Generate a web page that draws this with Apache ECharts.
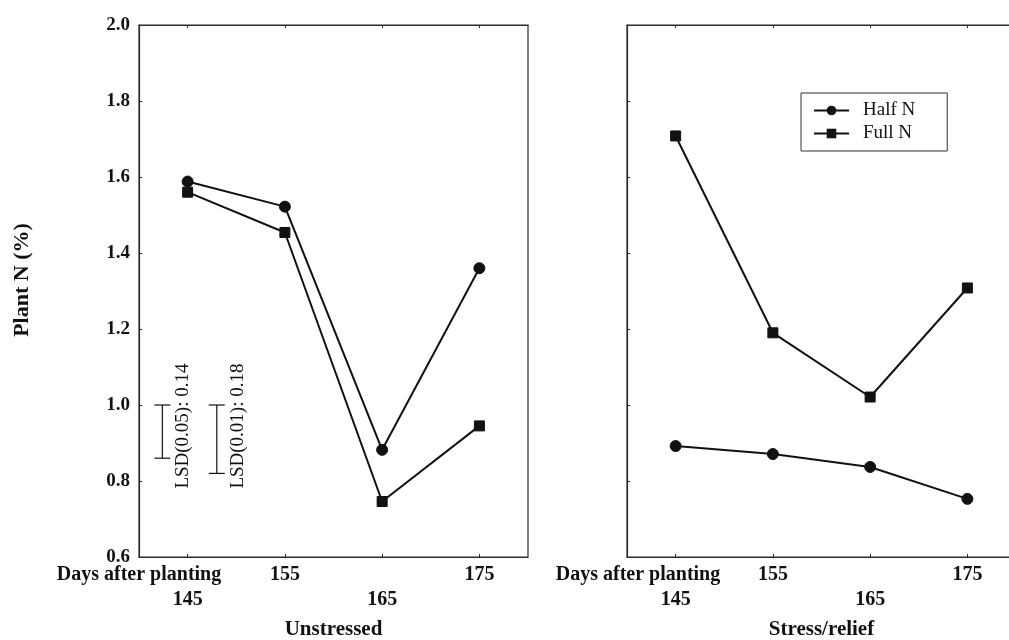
<!DOCTYPE html>
<html>
<head>
<meta charset="utf-8">
<script src="https://cdn.jsdelivr.net/npm/echarts@6/dist/echarts.min.js"></script>
<style>
  html, body { margin: 0; padding: 0; background: #fff; }
  #chart { width: 1009px; height: 640px; }
</style>
</head>
<body>
<div id="chart"></div>
<script>
// Sampling dates (days after planting)
const days = [145, 155, 165, 175];

// Plant N (%) — unstressed treatment
const unstressedHalfN = [1.588, 1.522, 0.882, 1.360];
const unstressedFullN = [1.560, 1.454, 0.746, 0.945];

// Plant N (%) — stress/relief treatment
const stressHalfN = [0.892, 0.871, 0.837, 0.753];
const stressFullN = [1.708, 1.190, 1.021, 1.308];

// Least significant differences shown on the unstressed panel
const lsdLabels = ['LSD(0.05): 0.14', 'LSD(0.01): 0.18'];
const lsdValues = [0.14, 0.18];
const lsdDays = [142.4, 148.0];
const lsdTop = 1.0;

// Axis labels
const yTicks = [0.6, 0.8, 1.0, 1.2, 1.4, 1.6, 1.8, 2.0];
const xCaption = 'Days after planting';
const xCaptionAt = [140];
const panelTitles = ['Unstressed', 'Stress/relief'];

const SERIF = '"Liberation Serif", "Times New Roman", serif';
const INK = '#111';
const FRAME = '#2b2b2b';
const LABEL = { color: INK, fontFamily: SERIF, fontWeight: 'bold', fontSize: 20, lineHeight: 25 };

// Date axis: dates alternate between two label rows.
function makeXAxis(grid, title) {
  return {
    type: 'value', gridIndex: grid, min: 140, max: 180, interval: 5,
    axisLine: { show: true, lineStyle: { color: FRAME, width: 1.2 } },
    axisTick: { show: true, inside: true, length: 3, customValues: days, lineStyle: { color: FRAME } },
    axisLabel: Object.assign({
      show: true, customValues: days, margin: 5, hideOverlap: false,
      showMinLabel: true, showMaxLabel: true,
      formatter: function (v) {
        const i = days.indexOf(v);
        if (i < 0) return '';
        return (i % 2 === 0 ? '\n' : '') + v;
      }
    }, LABEL),
    splitLine: { show: false },
    name: title, nameLocation: 'middle', nameGap: 62,
    nameTextStyle: { color: INK, fontFamily: SERIF, fontWeight: 'bold', fontSize: 21 }
  };
}

// Caption on the first label row, at the left end of the date axis.
function makeCaptionAxis(grid, shift) {
  return {
    type: 'value', gridIndex: grid, position: 'bottom', min: 140, max: 180, interval: 5,
    axisLine: { show: false }, axisTick: { show: false }, splitLine: { show: false },
    axisLabel: Object.assign({
      show: true, customValues: xCaptionAt, margin: 5, showMinLabel: true,
      formatter: () => '{c|' + xCaption + '}',
      rich: { c: Object.assign({ padding: [0, 0, 0, shift * 2] }, LABEL) }
    }, LABEL)
  };
}

function makeTopAxis(grid) {
  return {
    type: 'value', gridIndex: grid, position: 'top', min: 140, max: 180, interval: 5,
    axisLine: { show: true, lineStyle: { color: FRAME, width: 1.2 } },
    axisTick: { show: true, inside: true, length: 3, customValues: days, lineStyle: { color: FRAME } },
    axisLabel: { show: false }, splitLine: { show: false }
  };
}

function makeYAxis(grid, showLabels) {
  return {
    type: 'value', gridIndex: grid, min: 0.6, max: 2.0, interval: 0.2,
    axisLine: { show: true, lineStyle: { color: FRAME, width: 1.2 } },
    axisTick: { show: true, inside: true, length: 3, lineStyle: { color: FRAME } },
    axisLabel: {
      show: showLabels, margin: 9,
      formatter: v => (yTicks.some(t => Math.abs(t - v) < 1e-6) ? v.toFixed(1) : ''),
      color: INK, fontFamily: SERIF, fontWeight: 'bold', fontSize: 19
    },
    splitLine: { show: false }
  };
}

function lineSeries(name, grid, values, symbol, size) {
  return {
    name, type: 'line', xAxisIndex: grid * 3, yAxisIndex: grid,
    data: days.map((d, i) => [d, values[i]]),
    symbol, symbolSize: size,
    lineStyle: { color: INK, width: 2 },
    itemStyle: { color: INK, borderColor: INK },
    z: 3
  };
}

const chart = echarts.init(document.getElementById('chart'), null, { renderer: 'canvas' });

chart.setOption({
  animation: false,
  backgroundColor: '#fff',
  grid: [
    { left: 139, top: 25, width: 389, height: 532, outerBoundsMode: 'none', containLabel: false,
      show: true, borderColor: FRAME, borderWidth: 1.2 },
    { left: 627, top: 25, width: 389, height: 532, outerBoundsMode: 'none', containLabel: false,
      show: true, borderColor: FRAME, borderWidth: 1.2 }
  ],
  xAxis: [
    makeXAxis(0, panelTitles[0]), makeTopAxis(0), makeCaptionAxis(0, 0),
    makeXAxis(1, panelTitles[1]), makeTopAxis(1), makeCaptionAxis(1, 11)
  ],
  yAxis: [
    makeYAxis(0, true), makeYAxis(1, false)
  ],
  legend: {
    data: ['Half N', 'Full N'],
    orient: 'vertical', left: 801, top: 93,
    itemWidth: 35, itemHeight: 12, itemGap: 4,
    borderColor: '#333', borderWidth: 1,
    padding: [8, 32, 8, 12],
    textStyle: { color: INK, fontFamily: SERIF, fontSize: 19, padding: [0, 0, 0, 9] }
  },
  graphic: [
    {
      type: 'text', x: 22, y: 280, rotation: Math.PI / 2,
      style: { text: 'Plant N (%)', fill: INK, font: 'bold 22px ' + SERIF, align: 'center', verticalAlign: 'middle' }
    }
  ],
  series: [
    lineSeries('Half N', 0, unstressedHalfN, 'circle', 11),
    lineSeries('Full N', 0, unstressedFullN, 'rect', 10),
    lineSeries('Half N', 1, stressHalfN, 'circle', 11),
    lineSeries('Full N', 1, stressFullN, 'rect', 10),
    {
      type: 'custom', xAxisIndex: 0, yAxisIndex: 0,
      data: lsdValues.map((v, i) => [lsdDays[i], v, i]),
      renderItem: function (params, api) {
        const i = api.value(2);
        const top = api.coord([api.value(0), lsdTop]);
        const bot = api.coord([api.value(0), lsdTop - api.value(1)]);
        const base = api.coord([api.value(0), lsdTop - 0.22]);
        const cap = 8;
        const ls = { stroke: INK, lineWidth: 1.2 };
        return {
          type: 'group',
          children: [
            { type: 'line', shape: { x1: top[0], y1: top[1], x2: bot[0], y2: bot[1] }, style: ls },
            { type: 'line', shape: { x1: top[0] - cap, y1: top[1], x2: top[0] + cap, y2: top[1] }, style: ls },
            { type: 'line', shape: { x1: bot[0] - cap, y1: bot[1], x2: bot[0] + cap, y2: bot[1] }, style: ls },
            {
              type: 'text', x: top[0] + 21, y: base[1], rotation: Math.PI / 2,
              style: { text: lsdLabels[i], fill: INK, font: '19px ' + SERIF, align: 'left', verticalAlign: 'middle' }
            }
          ]
        };
      },
      z: 2
    }
  ]
});
</script>
</body>
</html>
